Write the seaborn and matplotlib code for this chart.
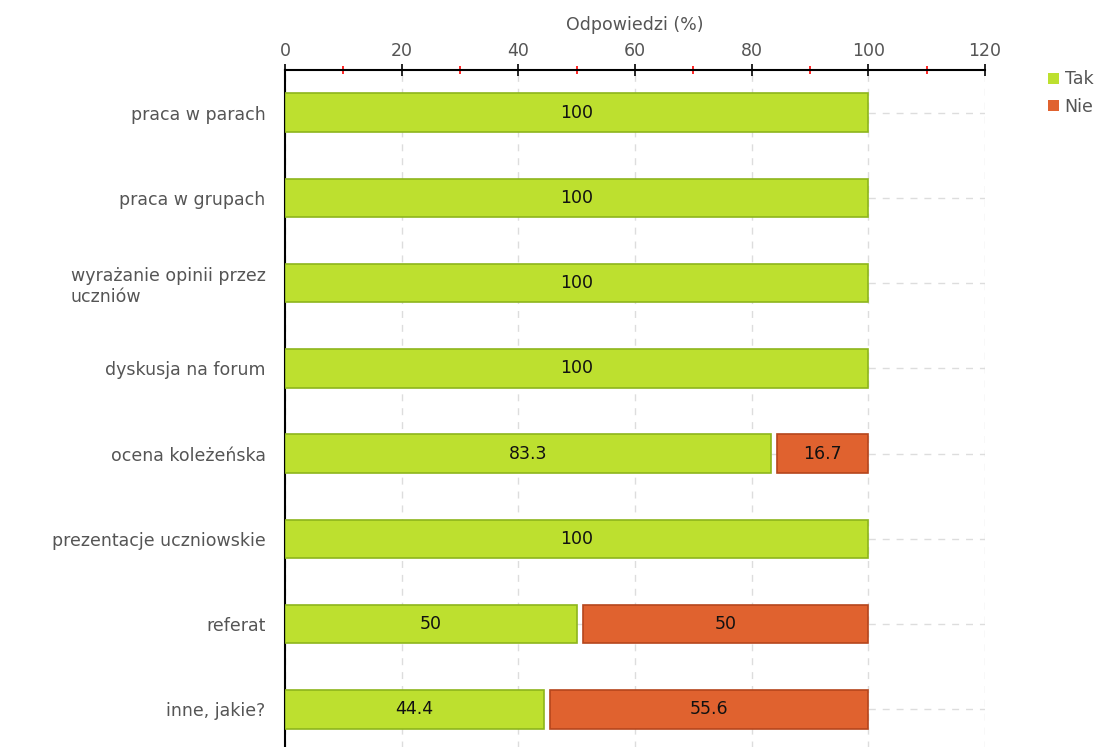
import numpy as np
import pandas as pd
import matplotlib
matplotlib.use('Agg')
import matplotlib.pyplot as plt
import seaborn as sns
from matplotlib.ticker import MultipleLocator
from matplotlib.patches import Patch

# data
categories = ['praca w parach', 'praca w grupach', 'wyrażanie opinii przez\nuczniów',
              'dyskusja na forum', 'ocena koleżeńska', 'prezentacje uczniowskie',
              'referat', 'inne, jakie?']
tak = [100, 100, 100, 100, 83.3, 100, 50, 44.4]
nie = [0, 0, 0, 0, 16.7, 0, 50, 55.6]
tak_labels = ['100', '100', '100', '100', '83.3', '100', '50', '44.4']
nie_labels = ['', '', '', '', '16.7', '', '50', '55.6']

green = '#bde02f'
green_edge = '#8db51c'
orange = '#e0622f'
orange_edge = '#b5461c'
txt_grey = '#555555'

sns.set_style('white')
plt.rcParams['font.family'] = ['DejaVu Sans']

df = pd.DataFrame({'kat': categories, 'Tak': tak, 'Nie': nie})

fig = plt.figure(figsize=(11.03, 7.47), dpi=100)
ax = fig.add_axes([0.2584, -0.0067, 0.6347, 0.913])

# Tak bars via seaborn
sns.barplot(data=df, y='kat', x='Tak', orient='h', color=green, edgecolor=green_edge,
            linewidth=1.2, width=0.45, saturation=1, ax=ax, zorder=3)

# Nie bars stacked after Tak (small white gap between segments)
gap = 1.0
ypos = np.arange(len(categories))
nie_arr = np.array(nie)
mask = nie_arr > 0
ax.barh(ypos[mask], nie_arr[mask] - gap, left=np.array(tak)[mask] + gap, height=0.45,
        color=orange, edgecolor=orange_edge, linewidth=1.2, zorder=3)

# value labels
for i in range(len(categories)):
    ax.text(tak[i] / 2, i, tak_labels[i], ha='center', va='center', fontsize=12.5,
            color='#111111', zorder=4)
    if nie_labels[i]:
        ax.text(tak[i] + gap + (nie[i] - gap) / 2, i, nie_labels[i], ha='center',
                va='center', fontsize=12.5, color='#111111', zorder=4)

ax.set_xlim(0, 120)
ax.set_ylim(len(categories) - 0.5, -0.5)

ax.xaxis.tick_top()
ax.xaxis.set_label_position('top')
ax.xaxis.set_major_locator(MultipleLocator(20))
ax.xaxis.set_minor_locator(MultipleLocator(10))
ax.tick_params(axis='x', which='major', direction='inout', length=8, width=1.2,
               color='black', labelsize=12.5, labelcolor=txt_grey, pad=3)
ax.tick_params(axis='x', which='minor', direction='inout', length=6, width=1.2,
               color='red')
ax.set_xlabel('Odpowiedzi (%)', fontsize=12.5, color=txt_grey, labelpad=9)
ax.set_ylabel('')
ax.tick_params(axis='y', which='major', direction='out', length=5, width=1,
               color='black', labelsize=12.5, labelcolor=txt_grey, pad=9)
for lab in ax.get_yticklabels():
    lab.set_multialignment('left')

# grid
ax.grid(True, axis='x', which='major', linestyle=(0, (5, 5)), color='#dddddd', lw=1)
ax.grid(True, axis='y', which='major', linestyle=(0, (5, 5)), color='#dddddd', lw=1)
ax.set_axisbelow(True)

for s in ['right', 'bottom']:
    ax.spines[s].set_visible(False)
ax.spines['top'].set_linewidth(1.5)
ax.spines['left'].set_linewidth(1.5)
ax.spines['top'].set_color('black')
ax.spines['left'].set_color('black')

# legend
handles = [Patch(facecolor=green, edgecolor='none', label='Tak'),
           Patch(facecolor=orange, edgecolor='none', label='Nie')]
fig.legend(handles=handles, loc='upper left', bbox_to_anchor=(0.944, 0.915),
           frameon=False, fontsize=12.5, handlelength=0.6, handleheight=0.6,
           handletextpad=0.35, labelspacing=0.55, borderaxespad=0, labelcolor=txt_grey)

fig.savefig('out.png', dpi=100)
